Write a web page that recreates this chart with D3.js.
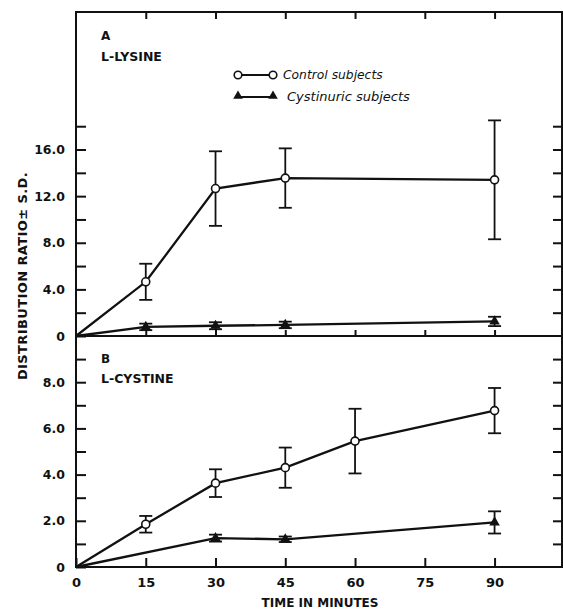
<!DOCTYPE html>
<html>
<head>
<meta charset="utf-8">
<script src="https://cdn.jsdelivr.net/npm/d3@7"></script>
<style>
  html, body { margin: 0; padding: 0; background: #fff; }
  svg { display: block; }
  text { font-family: "DejaVu Sans", sans-serif; fill: #111; }
</style>
</head>
<body>
<svg id="chart" width="563" height="610"></svg>
<script>
// ---- data ----
const xTicks = [0, 15, 30, 45, 60, 75, 90];

// Panel A: L-lysine
const lysControlTime = [0, 15, 30, 45, 90];
const lysControlMean = [0, 4.65, 12.65, 13.55, 13.4];
const lysControlSD   = [0, 1.55, 3.2, 2.55, 5.1];
const lysCystTime = [0, 15, 30, 45, 90];
const lysCystMean = [0, 0.78, 0.88, 0.95, 1.25];
const lysCystSD   = [0, 0.28, 0.3, 0.28, 0.4];
const lysTickLabels = [0, 4, 8, 12, 16];

// Panel B: L-cystine
const cysControlTime = [0, 15, 30, 45, 60, 90];
const cysControlMean = [0, 1.85, 3.63, 4.3, 5.45, 6.77];
const cysControlSD   = [0, 0.36, 0.6, 0.87, 1.4, 0.98];
const cysCystTime = [0, 30, 45, 90];
const cysCystMean = [0, 1.25, 1.2, 1.93];
const cysCystSD   = [0, 0.15, 0.12, 0.48];
const cysTickLabels = [0, 2, 4, 6, 8];

// ---- layout ----
const svg = d3.select("#chart");
const x  = d3.scaleLinear().domain([0, 104.5]).range([76, 562]);
const yA = d3.scaleLinear().domain([0, 27.8]).range([336, 12]);
const yB = d3.scaleLinear().domain([0, 10]).range([567, 336]);
const AX = 2;

function zip(t, m, s) { return t.map((d, i) => ({ t: d, v: m[i], sd: s[i] })); }

const fmt = d => d === 0 ? "0" : d.toFixed(1);

// frame
svg.append("rect")
  .attr("x", x.range()[0]).attr("y", yA.range()[1])
  .attr("width", x.range()[1] - x.range()[0])
  .attr("height", yB.range()[0] - yA.range()[1])
  .attr("fill", "none").attr("stroke", "#111").attr("stroke-width", AX);
svg.append("line")
  .attr("x1", x.range()[0]).attr("x2", x.range()[1])
  .attr("y1", yB.range()[1]).attr("y2", yB.range()[1])
  .attr("stroke", "#111").attr("stroke-width", AX);

function styleAxis(g) {
  g.select(".domain").remove();
  g.selectAll(".tick line").attr("stroke", "#111").attr("stroke-width", AX);
  g.selectAll(".tick text")
    .attr("fill", "#111")
    .style("font-family", '"DejaVu Sans", sans-serif')
    .style("font-weight", "bold")
    .style("font-size", "12.5px");
}

// left axes
svg.append("g").attr("transform", `translate(${x.range()[0]},0)`)
  .call(d3.axisLeft(yA).tickValues(d3.range(0, 19, 2)).tickSize(-10).tickPadding(11)
    .tickFormat(d => lysTickLabels.includes(d) ? fmt(d) : ""))
  .call(styleAxis);
svg.append("g").attr("transform", `translate(${x.range()[0]},0)`)
  .call(d3.axisLeft(yB).tickValues(d3.range(0, 10, 1)).tickSize(-10).tickPadding(11)
    .tickFormat(d => cysTickLabels.includes(d) ? fmt(d) : ""))
  .call(styleAxis);

// right axes
svg.append("g").attr("transform", `translate(${x.range()[1]},0)`)
  .call(d3.axisRight(yA).tickValues(d3.range(2, 19, 2)).tickSize(-9).tickFormat(""))
  .call(styleAxis);
svg.append("g").attr("transform", `translate(${x.range()[1]},0)`)
  .call(d3.axisRight(yB).tickValues(d3.range(1, 10, 1)).tickSize(-9).tickFormat(""))
  .call(styleAxis);

// top, middle, bottom axes
svg.append("g").attr("transform", `translate(0,${yA.range()[1]})`)
  .call(d3.axisTop(x).tickValues(xTicks.slice(1)).tickSize(-7).tickFormat(""))
  .call(styleAxis);
svg.append("g").attr("transform", `translate(0,${yA.range()[0]})`)
  .call(d3.axisBottom(x).tickValues(xTicks.slice(1)).tickSize(-6).tickFormat(""))
  .call(styleAxis);
svg.append("g").attr("transform", `translate(0,${yB.range()[0]})`)
  .call(d3.axisBottom(x).tickValues(xTicks).tickSize(-9).tickPadding(11).tickFormat(d => String(d)))
  .call(styleAxis)
  .call(g => g.selectAll(".tick text").style("font-size", "13px"));

// series drawing
function drawSeries(data, y, kind) {
  const line = d3.line().x(d => x(d.t)).y(d => y(d.v));
  svg.append("path").datum(data)
    .attr("d", line).attr("fill", "none")
    .attr("stroke", "#111").attr("stroke-width", 2.3);
  const pts = data.filter(d => d.t > 0);
  const cap = 6.5;
  const eb = svg.append("g").attr("stroke", "#111").attr("stroke-width", 1.8);
  pts.forEach(d => {
    if (d.sd <= 0) return;
    eb.append("line").attr("x1", x(d.t)).attr("x2", x(d.t))
      .attr("y1", y(d.v - d.sd)).attr("y2", y(d.v + d.sd));
    eb.append("line").attr("x1", x(d.t) - cap).attr("x2", x(d.t) + cap)
      .attr("y1", y(d.v - d.sd)).attr("y2", y(d.v - d.sd));
    eb.append("line").attr("x1", x(d.t) - cap).attr("x2", x(d.t) + cap)
      .attr("y1", y(d.v + d.sd)).attr("y2", y(d.v + d.sd));
  });
  if (kind === "circle") {
    svg.append("g").selectAll("circle").data(pts).join("circle")
      .attr("cx", d => x(d.t)).attr("cy", d => y(d.v)).attr("r", 4)
      .attr("fill", "#fff").attr("stroke", "#111").attr("stroke-width", 1.6);
  } else {
    svg.append("g").selectAll("path").data(pts).join("path")
      .attr("transform", d => `translate(${x(d.t)},${y(d.v)})`)
      .attr("d", d3.symbol(d3.symbolTriangle, 48))
      .attr("fill", "#111");
  }
}

drawSeries(zip(lysCystTime, lysCystMean, lysCystSD), yA, "triangle");
drawSeries(zip(lysControlTime, lysControlMean, lysControlSD), yA, "circle");
drawSeries(zip(cysCystTime, cysCystMean, cysCystSD), yB, "triangle");
drawSeries(zip(cysControlTime, cysControlMean, cysControlSD), yB, "circle");

// panel labels
function label(txt, px, py, size) {
  svg.append("text").attr("x", px).attr("y", py).text(txt)
    .style("font-weight", "bold").style("font-size", size + "px");
}
label("A", 101, 40, 12);
label("L-LYSINE", 101, 61, 12.5);
label("B", 101, 363, 12);
label("L-CYSTINE", 101, 383, 12.5);

// legend
const lg = svg.append("g");
lg.append("line").attr("x1", 238).attr("x2", 273).attr("y1", 75).attr("y2", 75)
  .attr("stroke", "#111").attr("stroke-width", 2);
[238, 273].forEach(cx => lg.append("circle").attr("cx", cx).attr("cy", 75).attr("r", 3.8)
  .attr("fill", "#fff").attr("stroke", "#111").attr("stroke-width", 1.6));
lg.append("line").attr("x1", 238).attr("x2", 273).attr("y1", 97).attr("y2", 97)
  .attr("stroke", "#111").attr("stroke-width", 2);
[238, 273].forEach(cx => lg.append("path").attr("transform", `translate(${cx},96)`)
  .attr("d", d3.symbol(d3.symbolTriangle, 40)).attr("fill", "#111"));
lg.append("text").attr("x", 283).attr("y", 79).text("Control subjects")
  .style("font-style", "italic").style("font-size", "12.3px");
lg.append("text").attr("x", 287).attr("y", 101).text("Cystinuric subjects")
  .style("font-style", "italic").style("font-size", "13px");

// axis titles
svg.append("text").attr("x", 320).attr("y", 607).attr("text-anchor", "middle")
  .text("TIME IN MINUTES").style("font-weight", "bold").style("font-size", "12px");
svg.append("text").attr("transform", "translate(27,276) rotate(-90)")
  .attr("text-anchor", "middle").text("DISTRIBUTION RATIO± S.D.")
  .style("font-weight", "bold").style("font-size", "13px").style("letter-spacing", "0.4px");
</script>
</body>
</html>
